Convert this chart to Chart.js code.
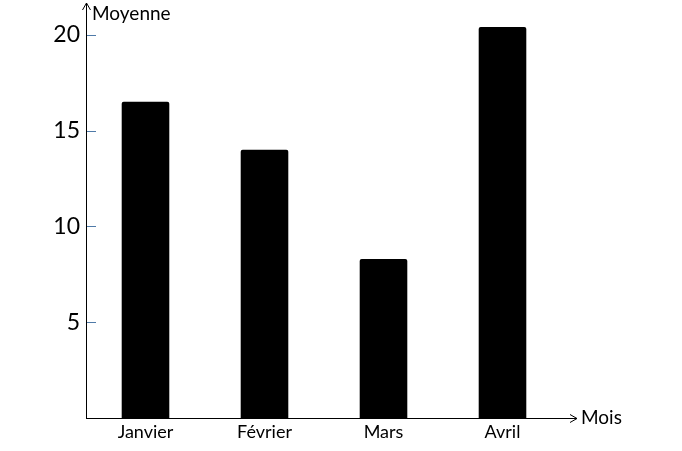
<!DOCTYPE html>
<html>
<head>
<meta charset="utf-8">
<script src="https://cdn.jsdelivr.net/npm/chart.js@4"></script>
<style>
  html, body { margin: 0; padding: 0; background: #fff; }
  #wrap { width: 682px; height: 451px; }
</style>
</head>
<body>
<div id="wrap"><canvas id="chart"></canvas></div>
<script>
const months = ["Janvier", "Février", "Mars", "Avril"];
const averages = [16.5, 14, 8.3, 20.4];
const yTicks = [5, 10, 15, 20];

const FONT = "Lato, 'Open Sans', sans-serif";

// axis lines with arrows, small blue tick marks, axis titles
const axesPlugin = {
  id: "axesArrows",
  afterDraw(chart) {
    const { ctx, chartArea, scales } = chart;
    const x0 = chartArea.left;
    const y0 = chartArea.bottom;
    const xEnd = 577;
    const yEnd = 3;

    ctx.save();
    ctx.strokeStyle = "#000";
    ctx.lineWidth = 1;
    ctx.beginPath();
    ctx.moveTo(x0 + 0.5, y0 + 0.5);
    ctx.lineTo(x0 + 0.5, yEnd);
    ctx.moveTo(x0 - 3.5, yEnd + 7);
    ctx.lineTo(x0 + 0.5, yEnd);
    ctx.lineTo(x0 + 4.5, yEnd + 7);
    ctx.moveTo(x0, y0 + 0.5);
    ctx.lineTo(xEnd, y0 + 0.5);
    ctx.moveTo(xEnd - 7, y0 - 3.5);
    ctx.lineTo(xEnd, y0 + 0.5);
    ctx.lineTo(xEnd - 7, y0 + 4.5);
    ctx.stroke();

    ctx.strokeStyle = "#4f7aa8";
    ctx.beginPath();
    yTicks.forEach((v) => {
      const y = Math.round(scales.y.getPixelForValue(v)) + 0.5;
      ctx.moveTo(x0 + 1, y);
      ctx.lineTo(x0 + 10, y);
    });
    ctx.stroke();

    ctx.fillStyle = "#000";
    ctx.font = "19px " + FONT;
    ctx.textBaseline = "middle";
    ctx.textAlign = "left";
    ctx.fillText("Moyenne", x0 + 6, 14);
    ctx.fillText("Mois", xEnd + 4, y0);
    ctx.restore();
  }
};

new Chart(document.getElementById("chart"), {
  type: "bar",
  data: {
    labels: months,
    datasets: [{
      data: averages,
      backgroundColor: "#000",
      borderRadius: 2,
      borderSkipped: "bottom",
      barPercentage: 0.4,
      categoryPercentage: 1
    }]
  },
  options: {
    responsive: true,
    maintainAspectRatio: false,
    animation: false,
    layout: { padding: { top: 5, right: 120, bottom: 0, left: 0 } },
    plugins: {
      legend: { display: false },
      tooltip: { enabled: false }
    },
    scales: {
      x: {
        grid: { display: false, drawTicks: false },
        border: { display: false },
        ticks: {
          color: "#000",
          font: { family: FONT, size: 18 },
          padding: 3,
          maxRotation: 0
        },
        afterFit(scale) { scale.height = 33; }
      },
      y: {
        min: 0,
        max: 20.78,
        grid: { display: false, drawTicks: false },
        border: { display: false },
        ticks: {
          stepSize: 5,
          includeBounds: false,
          color: "#000",
          font: { family: FONT, size: 23 },
          padding: 6,
          callback: (v) => (v === 0 ? "" : v)
        },
        afterFit(scale) { scale.width = 86; }
      }
    }
  },
  plugins: [axesPlugin]
});
</script>
</body>
</html>
